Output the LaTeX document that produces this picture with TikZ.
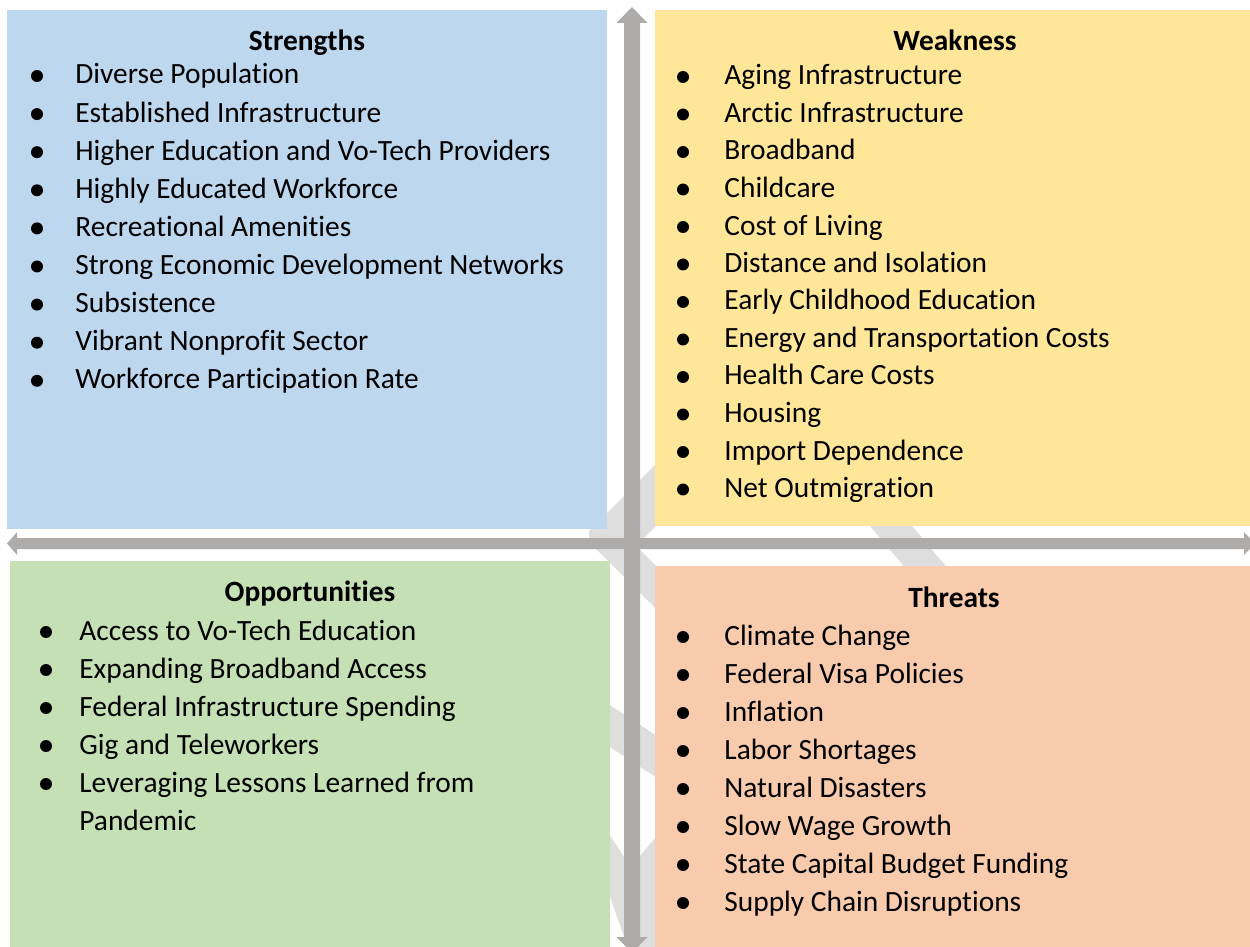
\documentclass[tikz,border=0pt]{standalone}
\usepackage{fontspec}
\setmainfont{Carlito}[Ligatures={NoCommon,NoContextual}]
\begin{document}
\definecolor{sblue}{HTML}{BDD7EE}
\definecolor{wyellow}{HTML}{FFE699}
\definecolor{ogreen}{HTML}{C5E0B4}
\definecolor{tpeach}{HTML}{F8CBAD}
\definecolor{arrowgray}{HTML}{AEABAB}
\definecolor{bandgray}{HTML}{DEDEDE}
\tikzset{
  itemtext/.style={anchor=base west, inner sep=0pt, font=\fontsize{14.7pt}{17pt}\selectfont, text=black},
  titletext/.style={anchor=base, inner sep=0pt, font=\fontsize{14.7pt}{17pt}\selectfont\bfseries, text=black},
  bulletdot/.style={fill=black},
  band/.style={fill=bandgray},
  blockarrow/.style={fill=arrowgray}
}
% one list entry: node name, bullet x, text x, bullet centre y, text
\newcommand{\swotitem}[5]{%
  \fill[bulletdot] (#2,#4) circle[radius=6];
  \node[itemtext] (#1) at (#3,{#4+8}) {#5};
}
\begin{tikzpicture}[x=0.5pt,y=-0.5pt]
\useasboundingbox (0,0) rectangle (1250,947);

% light grey background pieces showing between the quadrants
\path[band] (589,531) -- (720,400) -- (762,420) -- (636,546) -- (720,630) -- (700,653) -- (589,542) -- cycle;
\path[band] (831,480) -- (873,480) -- (983,610) -- (941,610) -- cycle;
\path[band] (590,692) -- (680,751) -- (680,793) -- (590,734) -- cycle;
\path[band] (598,817) -- (632,869) -- (632,960) -- (598,862) -- cycle;
\path[band] (630,868) -- (660,832) -- (660,960) -- (630,960) -- cycle;

% quadrant boxes
\path[fill=sblue]   (7,10)   rectangle (607,529);
\path[fill=wyellow] (655,10) rectangle (1250,526);
\path[fill=ogreen]  (10,561) rectangle (610,947);
\path[fill=tpeach]  (655,566) rectangle (1250,947);

% double-headed axis arrows
\path[blockarrow] (632,7) -- (647.5,23) -- (640,23) -- (640,937) -- (647.5,937) -- (632,953)
  -- (616.5,937) -- (624,937) -- (624,23) -- (616.5,23) -- cycle;
\path[blockarrow] (7,543.5) -- (17,532) -- (17,538) -- (1244,538) -- (1244,532) -- (1255,543.5)
  -- (1244,555) -- (1244,549) -- (17,549) -- (17,555) -- cycle;

% Strengths
\node[titletext] (sT) at (307,51) {Strengths};
\swotitem{s1}{37}{75}{76.0}{Diverse Population}
\swotitem{s2}{37}{75}{114.1}{Established Infrastructure}
\swotitem{s3}{37}{75}{152.2}{Higher Education and Vo-Tech Providers}
\swotitem{s4}{37}{75}{190.3}{Highly Educated Workforce}
\swotitem{s5}{37}{75}{228.4}{Recreational Amenities}
\swotitem{s6}{37}{75}{266.5}{Strong Economic Development Networks}
\swotitem{s7}{37}{75}{304.6}{Subsistence}
\swotitem{s8}{37}{75}{342.7}{Vibrant Nonprofit Sector}
\swotitem{s9}{37}{75}{380.8}{Workforce Participation Rate}

% Weakness
\node[titletext] (wT) at (955,51) {Weakness};
\swotitem{w1}{683}{724}{77.0}{Aging Infrastructure}
\swotitem{w2}{683}{724}{114.5}{Arctic Infrastructure}
\swotitem{w3}{683}{724}{152.0}{Broadband}
\swotitem{w4}{683}{724}{189.5}{Childcare}
\swotitem{w5}{683}{724}{227.0}{Cost of Living}
\swotitem{w6}{683}{724}{264.5}{Distance and Isolation}
\swotitem{w7}{683}{724}{302.0}{Early Childhood Education}
\swotitem{w8}{683}{724}{339.5}{Energy and Transportation Costs}
\swotitem{w9}{683}{724}{377.0}{Health Care Costs}
\swotitem{w10}{683}{724}{414.5}{Housing}
\swotitem{w11}{683}{724}{452.0}{Import Dependence}
\swotitem{w12}{683}{724}{489.5}{Net Outmigration}

% Opportunities
\node[titletext] (oT) at (310,601) {Opportunities};
\swotitem{o1}{46}{79}{632}{Access to Vo-Tech Education}
\swotitem{o2}{46}{79}{670}{Expanding Broadband Access}
\swotitem{o3}{46}{79}{708}{Federal Infrastructure Spending}
\swotitem{o4}{46}{79}{746}{Gig and Teleworkers}
\swotitem{o5}{46}{79}{784}{Leveraging Lessons Learned from}
\node[itemtext] (o5b) at (79,{822+8}) {Pandemic};

% Threats
\node[titletext] (tT) at (954,607) {Threats};
\swotitem{t1}{683}{724}{637}{Climate Change}
\swotitem{t2}{683}{724}{675}{Federal Visa Policies}
\swotitem{t3}{683}{724}{713}{Inflation}
\swotitem{t4}{683}{724}{751}{Labor Shortages}
\swotitem{t5}{683}{724}{789}{Natural Disasters}
\swotitem{t6}{683}{724}{827}{Slow Wage Growth}
\swotitem{t7}{683}{724}{865}{State Capital Budget Funding}
\swotitem{t8}{683}{724}{903}{Supply Chain Disruptions}
\end{tikzpicture}
\end{document}
